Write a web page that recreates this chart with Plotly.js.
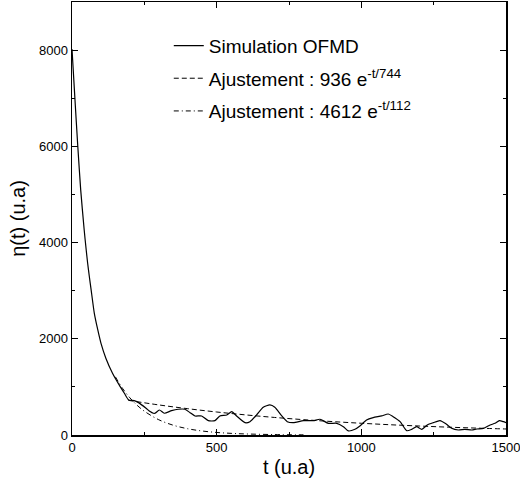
<!DOCTYPE html>
<html>
<head>
<meta charset="utf-8">
<script src="https://cdn.plot.ly/plotly-3.0.1.min.js"></script>
<style>html,body{margin:0;padding:0;background:#fff;}#chart{width:520px;height:484px;}</style>
</head>
<body>
<div id="chart"></div>
<script>
// Simulation OFMD
const simT = [0, 10, 20, 30, 42, 49, 54, 60, 66, 77, 89, 100, 117, 140, 163, 181, 196, 215, 230, 256, 270, 281, 287, 302, 319, 344, 367, 390, 408, 425, 448, 471, 494, 511, 535, 552, 569, 598, 615, 638, 661, 684, 701, 725, 744, 765, 800, 834, 857, 886, 915, 938, 955, 978, 995, 1018, 1041, 1070, 1093, 1110, 1134, 1157, 1174, 1191, 1209, 1228, 1249, 1272, 1293, 1312, 1335, 1358, 1382, 1399, 1422, 1445, 1462, 1477, 1491, 1500];
const simEta = [8020, 7000, 6000, 5100, 4270, 3850, 3576, 3290, 3021, 2535, 2188, 1910, 1597, 1285, 1042, 868, 729, 715, 673, 556, 486, 452, 452, 520, 452, 506, 535, 535, 465, 396, 396, 298, 298, 396, 417, 486, 396, 256, 277, 417, 577, 625, 577, 396, 277, 256, 298, 298, 327, 243, 243, 173, 85, 118, 187, 312, 361, 396, 437, 381, 277, 90, 118, 173, 118, 208, 256, 298, 229, 139, 104, 118, 104, 125, 139, 208, 243, 298, 277, 256];

// Fit 936 e^(-t/744)
const fit1T = [195, 300, 400, 500, 600, 700, 800, 900, 1000, 1100, 1200, 1300, 1400, 1500];
const fit1Eta = [720, 625, 547, 478, 418, 365, 319, 279, 244, 213, 187, 163, 143, 125];

// Fit 4612 e^(-t/112)
const fit2T = [150, 175, 200, 225, 250, 300, 350, 400, 450, 500, 550, 600, 700, 800];
const fit2Eta = [1209, 967, 773, 618, 495, 317, 203, 130, 83, 53, 34, 22, 9, 4];

const names = ["Simulation OFMD", "Ajustement : 936 e<sup>-t/744</sup>", "Ajustement : 4612 e<sup>-t/112</sup>"];

const FONT = "Liberation Sans, Arial, Helvetica, sans-serif";

const traces = [
  {x: simT, y: simEta, name: names[0], legendgroup: "a", mode: "lines", line: {color: "#000", width: 1.2, shape: "spline", smoothing: 0.6}},
  {x: fit1T, y: fit1Eta, name: names[1], legendgroup: "b", mode: "lines", line: {color: "#000", width: 1, dash: "5px,3px", shape: "spline"}},
  {x: fit2T, y: fit2Eta, name: names[2], legendgroup: "c", mode: "lines", line: {color: "#000", width: 1, dash: "5px,3px,1px,3px", shape: "spline"}}
];

const axisCommon = {
  showline: true, linecolor: "#000", linewidth: 1.5, mirror: "allticks",
  ticks: "inside", ticklen: 6, tickwidth: 1, tickcolor: "#000",
  showgrid: false, zeroline: false, ticklabeloverflow: "allow",
  tickfont: {family: FONT, size: 13, color: "#000"}
};

const layout = {
  width: 520, height: 484,
  margin: {l: 72, r: 14, t: 2, b: 49},
  paper_bgcolor: "#fff", plot_bgcolor: "#fff",
  font: {family: FONT, color: "#000"},
  showlegend: true,
  legend: {x: 0.223, y: 0.943, xanchor: "left", yanchor: "top", bgcolor: "rgba(0,0,0,0)",
           traceorder: "grouped", tracegroupgap: 5,
           font: {family: FONT, size: 19, color: "#000"}},
  xaxis: Object.assign({}, axisCommon, {
    range: [0, 1500], tickvals: [0, 500, 1000, 1500],
    minor: {dtick: 250, tick0: 0, ticks: "inside", ticklen: 3, tickcolor: "#000", showgrid: false},
    title: {text: "t (u.a)", font: {family: FONT, size: 20, color: "#000"}, standoff: 6}
  }),
  yaxis: Object.assign({}, axisCommon, {
    range: [0, 9000], tickvals: [0, 2000, 4000, 6000, 8000],
    minor: {dtick: 1000, tick0: 0, ticks: "inside", ticklen: 3, tickcolor: "#000", showgrid: false},
    title: {text: "η(t) (u.a)", font: {family: FONT, size: 20, color: "#000"}, standoff: 8}
  })
};

Plotly.newPlot("chart", traces, layout, {staticPlot: true, displayModeBar: false});
</script>
</body>
</html>
